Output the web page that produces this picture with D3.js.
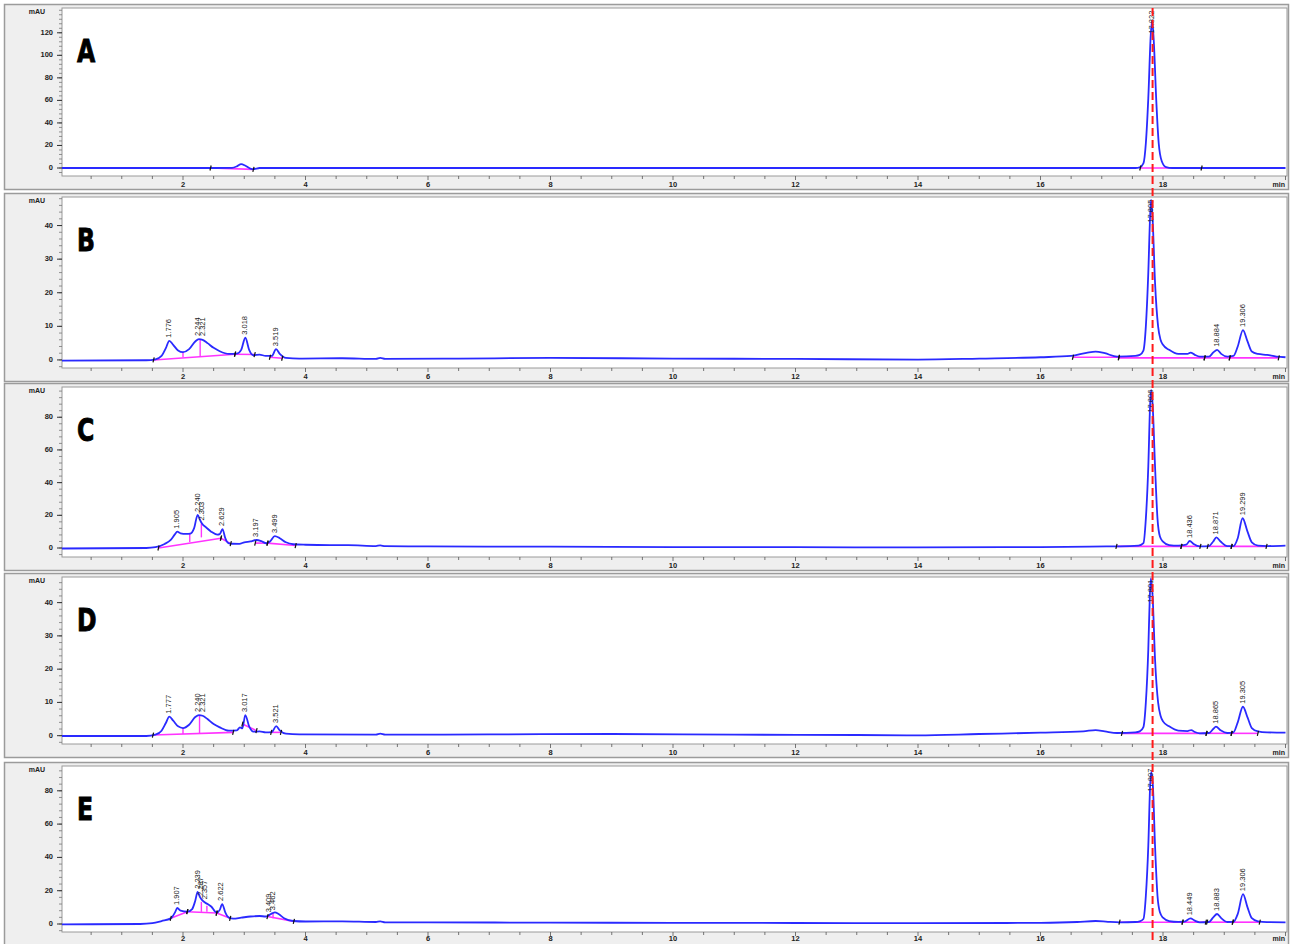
<!DOCTYPE html>
<html>
<head>
<meta charset="utf-8">
<script src="https://cdn.jsdelivr.net/npm/d3@7/dist/d3.min.js"></script>
<style>
  body { margin: 0; background: #fff; }
  svg { display: block; }
</style>
</head>
<body>
<svg id="chart" width="1290" height="944"></svg>
<script>
// ---- data ------------------------------------------------------------
const panelNames = ['A', 'B', 'C', 'D', 'E'];
const yTopValues = [142, 48.5, 98.5, 47.7, 94.9];
const yBottomValues = [-7.1, -2.4, -5.5, -2.5, -4.8];
const yMajorTicks = [
  [0, 20, 40, 60, 80, 100, 120],
  [0, 10, 20, 30, 40],
  [0, 20, 40, 60, 80],
  [0, 10, 20, 30, 40],
  [0, 20, 40, 60, 80]
];
const yMinorSteps = [4, 2, 4, 2, 4];
const xTickLabels = [2, 4, 6, 8, 10, 12, 14, 16, 18];
const markerTime = 17.83;

// traces: [min, mAU]
const traceA = [
  [0, 0], [2.4, 0], [2.8, 0.2], [2.88, 1.5], [2.95, 3.5], [3.02, 2], [3.1, -0.5], [3.15, -1],
  [3.25, 0], [17.55, 0], [17.62, 0.5], [17.68, 4], [17.72, 22], [17.76, 62], [17.8, 118],
  [17.822, 131], [17.85, 112], [17.89, 60], [17.93, 22], [17.98, 6], [18.05, 0.8], [18.15, 0], [20, 0]
];
const traceB = [
  [0, -0.2], [1.4, -0.1], [1.55, 0.2], [1.65, 1.2], [1.72, 3.5], [1.776, 5.7], [1.84, 4.5],
  [1.92, 2.8], [2.0, 2.3], [2.1, 3.2], [2.2, 5.5], [2.26, 6.2], [2.32, 6.0], [2.4, 5.0],
  [2.5, 3.6], [2.6, 2.6], [2.75, 1.8], [2.88, 1.9], [2.95, 3], [3.018, 6.6], [3.08, 3],
  [3.15, 1.4], [3.25, 1.6], [3.35, 1.2], [3.45, 1.2], [3.519, 3.2], [3.58, 1.8], [3.68, 0.6],
  [3.9, 0.4], [4.6, 0.5], [5.15, 0.3], [5.22, 0.6], [5.3, 0.3], [6.5, 0.4], [8, 0.6],
  [10, 0.4], [12, 0.3], [14, 0.1], [15, 0.4], [16, 0.8], [16.5, 1.2], [16.75, 2.1],
  [16.9, 2.5], [17.05, 2.0], [17.25, 1.0], [17.55, 1.2], [17.62, 1.5], [17.68, 2.8],
  [17.72, 10], [17.76, 26], [17.79, 43], [17.805, 47.6], [17.83, 42], [17.87, 23],
  [17.92, 10], [17.96, 6], [18.0, 4.5], [18.1, 3], [18.25, 1.8], [18.4, 1.8], [18.45, 2.2],
  [18.52, 1.5], [18.6, 1], [18.75, 1.0], [18.82, 2.2], [18.884, 3.0], [18.95, 1.8],
  [19.05, 1], [19.15, 1.2], [19.22, 4], [19.306, 8.9], [19.38, 5.5], [19.45, 2.5],
  [19.55, 1.8], [19.7, 1.5], [19.85, 1.0], [20, 0.8]
];
const traceC = [
  [0, -0.3], [1.4, 0], [1.55, 0.5], [1.7, 2.5], [1.8, 5], [1.87, 8.5], [1.905, 10], [1.96, 9],
  [2.05, 8.6], [2.12, 8.8], [2.18, 12], [2.24, 20.2], [2.28, 17], [2.31, 15], [2.38, 12.5],
  [2.46, 10], [2.56, 8.2], [2.6, 8.5], [2.645, 11.6], [2.69, 6], [2.74, 3], [2.8, 2.6],
  [2.92, 2.5], [3.0, 3.5], [3.1, 4], [3.197, 4.9], [3.28, 4.2], [3.36, 2.9], [3.42, 4],
  [3.499, 7.3], [3.58, 6], [3.68, 3.5], [3.8, 2.3], [4.0, 2], [4.4, 1.8], [4.7, 1.8],
  [5.15, 1.2], [5.22, 1.6], [5.3, 1.1], [6, 1], [8, 0.8], [10, 0.6], [12, 0.5], [14, 0.4],
  [16, 0.6], [16.8, 0.9], [17.3, 1], [17.6, 1.5], [17.68, 3], [17.72, 18], [17.76, 50],
  [17.79, 88], [17.806, 96.7], [17.83, 88], [17.87, 50], [17.91, 18], [17.95, 7], [18.0, 3.9],
  [18.1, 1.8], [18.25, 1.4], [18.38, 2], [18.436, 4.3], [18.5, 2.5], [18.6, 1], [18.75, 1.2],
  [18.82, 4], [18.871, 6.5], [18.94, 4], [19.05, 1.2], [19.15, 1.2], [19.22, 6],
  [19.299, 18.2], [19.38, 10], [19.45, 3.5], [19.55, 1.5], [19.7, 1.2], [20, 1.5]
];
const traceD = [
  [0, -0.1], [1.4, -0.1], [1.55, 0.3], [1.65, 1.5], [1.72, 3.8], [1.777, 5.7], [1.84, 4.5],
  [1.92, 2.8], [2.0, 2.3], [2.1, 3.3], [2.2, 5.6], [2.26, 6.2], [2.32, 6.0], [2.4, 5.0],
  [2.5, 3.5], [2.6, 2.5], [2.75, 1.5], [2.88, 1.6], [2.93, 2.5], [2.97, 2.2], [3.017, 6.2],
  [3.08, 2.8], [3.15, 1.2], [3.25, 1.3], [3.35, 1.0], [3.45, 1.1], [3.521, 2.9], [3.58, 1.6],
  [3.68, 0.6], [3.9, 0.4], [5.15, 0.3], [5.22, 0.6], [5.3, 0.3], [7, 0.4], [9, 0.5],
  [11, 0.3], [13, 0.2], [14, 0.1], [15, 0.5], [16, 0.9], [16.7, 1.3], [16.9, 1.7],
  [17.05, 1.3], [17.25, 0.8], [17.55, 1.0], [17.62, 1.3], [17.68, 2.6], [17.72, 10],
  [17.76, 26], [17.785, 42], [17.801, 47.3], [17.83, 42], [17.87, 23], [17.92, 10],
  [17.96, 6], [18.0, 4.3], [18.1, 2.8], [18.25, 1.5], [18.4, 1.4], [18.46, 1.7],
  [18.52, 1.1], [18.6, 0.7], [18.75, 0.8], [18.82, 2], [18.865, 2.7], [18.94, 1.6],
  [19.05, 0.8], [19.15, 1], [19.22, 4], [19.305, 8.7], [19.38, 5.5], [19.45, 2.3],
  [19.55, 1.3], [19.7, 1], [20, 0.9]
];
const traceE = [
  [0, -0.2], [1.3, 0], [1.5, 0.5], [1.65, 1.8], [1.8, 3.4], [1.87, 7], [1.907, 9.6], [1.96, 8],
  [2.07, 7.4], [2.15, 9], [2.2, 14], [2.239, 19.3], [2.28, 16], [2.32, 14], [2.4, 12],
  [2.46, 10.5], [2.55, 6.8], [2.6, 8.5], [2.64, 12], [2.69, 7], [2.75, 3.8], [2.82, 3.2],
  [2.95, 3.8], [3.1, 4.5], [3.25, 4.8], [3.35, 4.5], [3.4, 5.2], [3.46, 6.5], [3.5, 7],
  [3.56, 6], [3.65, 3.5], [3.8, 1.8], [4.0, 1.5], [4.6, 1.6], [5.15, 1.2], [5.22, 1.6],
  [5.3, 1.0], [6, 1.0], [8, 0.8], [10, 0.7], [12, 0.6], [14, 0.5], [16, 0.7], [16.6, 1.2],
  [16.9, 1.8], [17.1, 1.3], [17.3, 1.0], [17.55, 1.2], [17.62, 1.6], [17.68, 3], [17.72, 17],
  [17.76, 47], [17.79, 83], [17.807, 91.5], [17.835, 83], [17.87, 47], [17.91, 17],
  [17.95, 7], [18.0, 3.8], [18.1, 1.8], [18.25, 1.3], [18.35, 1.4], [18.449, 3.4],
  [18.52, 2], [18.6, 1], [18.75, 1.2], [18.82, 4], [18.883, 6], [18.95, 3.5], [19.05, 1.2],
  [19.15, 1.3], [19.22, 6], [19.306, 17.9], [19.38, 10], [19.45, 3.5], [19.55, 1.6],
  [19.7, 1.1], [20, 1]
];

// peak labels: [min, apex mAU, text]
const peaksA = [[17.822, 131, '17.822']];
const peaksB = [[1.776, 5.7, '1.776'], [2.244, 6.2, '2.244'], [2.321, 6.2, '2.321'],
  [3.018, 6.6, '3.018'], [3.519, 3.2, '3.519'], [17.805, 47.6, '17.805'],
  [18.884, 3.0, '18.884'], [19.306, 8.9, '19.306']];
const peaksC = [[1.905, 10, '1.905'], [2.240, 20.2, '2.240'], [2.303, 15, '2.303'],
  [2.629, 11.6, '2.629'], [3.197, 4.9, '3.197'], [3.499, 7.3, '3.499'],
  [17.806, 96.7, '17.806'], [18.436, 4.3, '18.436'], [18.871, 6.5, '18.871'],
  [19.299, 18.2, '19.299']];
const peaksD = [[1.777, 5.7, '1.777'], [2.240, 6.2, '2.240'], [2.321, 6.2, '2.321'],
  [3.017, 6.2, '3.017'], [3.521, 2.9, '3.521'], [17.801, 47.3, '17.801'],
  [18.865, 2.7, '18.865'], [19.305, 8.7, '19.305']];
const peaksE = [[1.907, 9.6, '1.907'], [2.239, 19.3, '2.239'], [2.287, 15, '2.287'],
  [2.357, 13, '2.357'], [2.622, 12, '2.622'], [3.409, 5.2, '3.409'], [3.462, 6.5, '3.462'],
  [17.807, 91.5, '17.807'], [18.449, 3.4, '18.449'], [18.883, 6, '18.883'],
  [19.306, 17.9, '19.306']];

// integration baselines: [t1, y1, t2, y2]
const basesA = [[2.45, 0, 3.15, -1.2], [17.63, 0, 18.63, 0]];
const basesB = [[1.52, 0, 2.85, 1.7], [2.85, 1.7, 3.17, 1.6], [3.42, 0.8, 3.62, 0.5],
  [16.53, 0.8, 17.28, 0.8], [17.28, 0.6, 18.68, 0.6], [18.68, 0.6, 19.09, 0.6], [19.09, 0.6, 19.89, 0.6]];
const basesC = [[1.6, 0, 2.62, 6], [2.62, 6, 2.78, 2.7], [3.18, 3, 3.38, 3], [3.38, 3, 3.84, 1.5],
  [17.24, 1, 18.3, 1], [18.3, 1, 18.61, 1], [18.73, 1, 19.12, 1], [19.12, 1, 19.69, 1]];
const basesD = [[1.51, 0.2, 2.82, 1], [2.97, 3.5, 3.2, 1.5], [3.44, 1, 3.6, 1],
  [17.33, 0.7, 18.71, 0.7], [18.71, 0.7, 19.12, 0.7], [19.12, 0.7, 19.55, 0.7]];
const basesE = [[1.8, 3.4, 2.07, 7.4], [2.07, 7.4, 2.55, 6.6], [2.55, 6.6, 2.77, 3.4],
  [3.38, 4.5, 3.81, 1.6], [17.29, 1.1, 18.32, 1.1], [18.32, 1.1, 18.7, 1.1],
  [18.72, 1.1, 19.14, 1.1], [19.14, 1.1, 19.58, 1.1]];

// drop lines: [t, yLow, yHigh]
const dropsA = [];
const dropsB = [[2.0, 0.8, 2.3], [2.28, 1.1, 6.2]];
const dropsC = [[2.11, 3.7, 8.8], [2.30, 6.5, 15]];
const dropsD = [[2.0, 0.5, 2.3], [2.27, 0.7, 6.1]];
const dropsE = [[2.30, 7.3, 13.3], [2.39, 7.3, 11], [3.47, 3.4, 6.6]];

// ---- layout ----------------------------------------------------------
const plotTops = [8, 197, 387, 577, 766];
const plotBottoms = [176, 368, 557, 744, 932];
const plotLeft = 62, plotRight = 1287;

const traces = [traceA, traceB, traceC, traceD, traceE];
const peaks = [peaksA, peaksB, peaksC, peaksD, peaksE];
const bases = [basesA, basesB, basesC, basesD, basesE];
const drops = [dropsA, dropsB, dropsC, dropsD, dropsE];

const svg = d3.select('#chart');
const x = d3.scaleLinear().domain([0, 20]).range([60.5, 1285.5]);
const tickFont = '"Liberation Sans", Arial, sans-serif';

panelNames.forEach((name, i) => {
  const top = plotTops[i], bottom = plotBottoms[i];
  const y = d3.scaleLinear().domain([yBottomValues[i], yTopValues[i]]).range([bottom, top]);
  const g = svg.append('g').attr('class', 'panel');
  // last panel is cut by the page edge, keep its labels just inside
  const labelY = Math.min(bottom + 9, 939);

  // frame
  g.append('rect')
    .attr('x', 4.5).attr('y', top - 3.5)
    .attr('width', 1284).attr('height', bottom - top + 17)
    .attr('fill', '#efefef').attr('stroke', '#9b9b9b').attr('stroke-width', 1.5);
  g.append('rect')
    .attr('x', plotLeft).attr('y', top)
    .attr('width', plotRight - plotLeft).attr('height', bottom - top)
    .attr('fill', '#fff').attr('stroke', '#9a9a9a').attr('stroke-width', 1);

  const clipId = 'clip' + name;
  g.append('clipPath').attr('id', clipId)
    .append('rect').attr('x', plotLeft).attr('y', top)
    .attr('width', plotRight - plotLeft).attr('height', bottom - top);

  // y axis ticks
  const minor = d3.range(Math.ceil(yBottomValues[i] / yMinorSteps[i]) * yMinorSteps[i],
    yTopValues[i], yMinorSteps[i]);
  g.selectAll('line.ymin').data(minor).join('line')
    .attr('x1', plotLeft - 3).attr('x2', plotLeft)
    .attr('y1', d => y(d)).attr('y2', d => y(d))
    .attr('stroke', '#777').attr('stroke-width', 0.8);
  g.selectAll('line.ymaj').data(yMajorTicks[i]).join('line')
    .attr('x1', plotLeft - 5).attr('x2', plotLeft)
    .attr('y1', d => y(d)).attr('y2', d => y(d))
    .attr('stroke', '#333').attr('stroke-width', 1);
  g.selectAll('text.ylab').data(yMajorTicks[i]).join('text')
    .attr('x', 53).attr('y', d => y(d))
    .attr('text-anchor', 'end').attr('dominant-baseline', 'middle')
    .style('font-family', tickFont).style('font-size', '7.5px').style('font-weight', 'bold')
    .attr('fill', '#222').text(d => d);
  g.append('text')
    .attr('x', 45).attr('y', top + 4)
    .attr('text-anchor', 'end').attr('dominant-baseline', 'middle')
    .style('font-family', tickFont).style('font-size', '7px').style('font-weight', 'bold')
    .attr('fill', '#222').text('mAU');

  // x axis ticks
  const xt = d3.range(0.5, 20.01, 0.5);
  g.selectAll('line.xt').data(xt).join('line')
    .attr('x1', d => x(d)).attr('x2', d => x(d))
    .attr('y1', bottom).attr('y2', d => bottom + (d % 2 === 0 ? 4 : 3))
    .attr('stroke', '#555').attr('stroke-width', 0.8);
  g.selectAll('text.xlab').data(xTickLabels).join('text')
    .attr('x', d => x(d)).attr('y', labelY)
    .attr('text-anchor', 'middle').attr('dominant-baseline', 'middle')
    .style('font-family', tickFont).style('font-size', '7.5px').style('font-weight', 'bold')
    .attr('fill', '#222').text(d => d);
  g.append('text')
    .attr('x', 1285).attr('y', labelY)
    .attr('text-anchor', 'end').attr('dominant-baseline', 'middle')
    .style('font-family', tickFont).style('font-size', '7px').style('font-weight', 'bold')
    .attr('fill', '#222').text('min');

  const inner = g.append('g').attr('clip-path', `url(#${clipId})`);

  // integration baselines and drop lines
  inner.selectAll('line.base').data(bases[i]).join('line')
    .attr('x1', d => x(d[0])).attr('y1', d => y(d[1]))
    .attr('x2', d => x(d[2])).attr('y2', d => y(d[3]))
    .attr('stroke', '#ff33ff').attr('stroke-width', 1.6);
  inner.selectAll('line.drop').data(drops[i]).join('line')
    .attr('x1', d => x(d[0])).attr('x2', d => x(d[0]))
    .attr('y1', d => y(d[1])).attr('y2', d => y(d[2]))
    .attr('stroke', '#ff33ff').attr('stroke-width', 1.4);

  // trace
  const line = d3.line().x(d => x(d[0])).y(d => y(d[1])).curve(d3.curveMonotoneX);
  inner.append('path').datum(traces[i])
    .attr('d', line).attr('fill', 'none')
    .attr('stroke', '#2a2aff').attr('stroke-width', 1.8).attr('stroke-linejoin', 'round');

  // boundary tick marks
  const ends = bases[i].flatMap(d => [[d[0], d[1]], [d[2], d[3]]]);
  inner.selectAll('line.end').data(ends).join('line')
    .attr('x1', d => x(d[0]) - 0.6).attr('x2', d => x(d[0]) + 0.6)
    .attr('y1', d => y(d[1]) + 2.5).attr('y2', d => y(d[1]) - 2.5)
    .attr('stroke', '#111').attr('stroke-width', 1.2);

  // peak labels (rotated)
  peaks[i].forEach(p => {
    const len = p[2].length * 4.1;
    let yb = y(p[1]) - 3;
    if (yb - len < top + 1) yb = top + 1 + len;
    g.append('text')
      .attr('transform', `translate(${x(p[0])},${yb}) rotate(-90)`)
      .attr('dominant-baseline', 'middle')
      .style('font-family', tickFont).style('font-size', '7.5px')
      .attr('fill', '#222').text(p[2]);
  });

  // panel letter, heavy condensed
  g.append('text')
    .attr('transform', `translate(77,${top + 54}) scale(0.82,1)`)
    .style('font-family', '"DejaVu Sans Condensed", "DejaVu Sans", sans-serif')
    .style('font-size', '32px').style('font-weight', 'bold')
    .attr('stroke', '#000').attr('stroke-width', 0.8)
    .attr('fill', '#000').text(name);
});

// red dashed marker line across all panels
svg.append('line')
  .attr('x1', x(markerTime)).attr('x2', x(markerTime))
  .attr('y1', 8).attr('y2', 944)
  .attr('stroke', '#ff1a1a').attr('stroke-width', 2).attr('stroke-dasharray', '8,4');
</script>
</body>
</html>
